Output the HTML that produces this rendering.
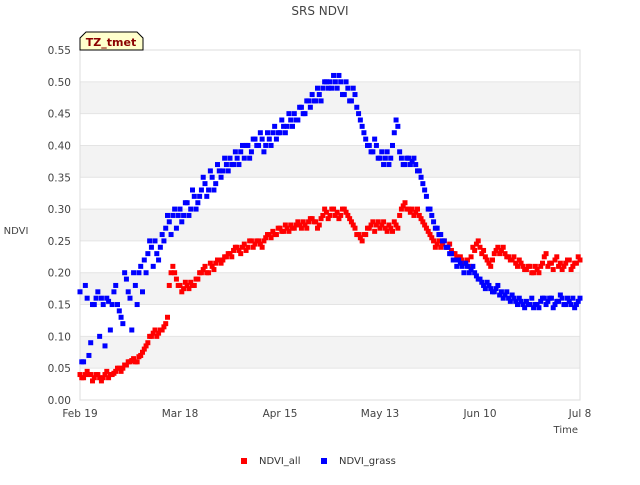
<!DOCTYPE html>
<html><head><meta charset="utf-8"><style>
body{margin:0;background:#fff;font-family:"Liberation Sans","DejaVu Sans",sans-serif;}
svg text{font-family:"DejaVu Sans","Liberation Sans",sans-serif;}
</style></head><body>
<svg id="chart" width="640" height="480" xmlns="http://www.w3.org/2000/svg">
<rect width="640" height="480" fill="#fff"/>
<text x="320" y="15" text-anchor="middle" font-size="12" fill="#444">SRS NDVI</text>
<g id="bands"></g>
<g id="yaxis"></g>
<g id="xaxis"></g>
<rect x="80" y="50" width="500" height="350" fill="none" stroke="#ddd"/>
<g id="marks"></g>
<text x="16" y="234" font-size="10" fill="#444" text-anchor="middle">NDVI</text>
<text x="578" y="433" font-size="10" fill="#444" text-anchor="end">Time</text>
<g>
<path d="M80,50 L80,38 L86,32 L137,32 L143,38 L143,50 Z" fill="#ffffcc" stroke="#000"/>
<text x="111" y="46" text-anchor="middle" font-size="11" font-weight="bold" fill="#8b0000">TZ_tmet</text>
</g>
<g><rect x="241" y="458" width="6" height="6" fill="#f00"/><text x="259" y="464" font-size="10" fill="#333">NDVI_all</text></g>
<g><rect x="321" y="458" width="6" height="6" fill="#00f"/><text x="339" y="464" font-size="10" fill="#333">NDVI_grass</text></g>
</svg>
<script>
const yTicks=[0,0.05,0.1,0.15,0.2,0.25,0.3,0.35,0.4,0.45,0.5,0.55];
const xTickDays=[0,28,56,84,112,140];
const xTickLabels=["Feb 19","Mar 18","Apr 15","May 13","Jun 10","Jul 8"];
const ndviAll=[0.04,0.035,0.045,0.04,0.035,0.04,0.03,0.04,0.035,0.04,
0.045,0.05,0.05,0.055,0.06,0.065,0.06,0.07,0.08,0.09,
0.10,0.11,0.105,0.11,0.12,0.18,0.21,0.19,0.18,0.175,
0.18,0.185,0.18,0.19,0.20,0.21,0.20,0.21,0.215,0.22,
0.22,0.225,0.23,0.235,0.24,0.23,0.245,0.24,0.25,0.245,
0.25,0.24,0.255,0.26,0.265,0.26,0.27,0.265,0.27,0.275,
0.27,0.28,0.27,0.275,0.28,0.285,0.28,0.275,0.29,0.295,
0.29,0.30,0.295,0.29,0.30,0.29,0.28,0.27,0.26,0.25,
0.26,0.27,0.28,0.275,0.27,0.28,0.265,0.27,0.28,0.27,
0.30,0.31,0.30,0.30,0.295,0.29,0.28,0.27,0.26,0.25,
0.245,0.24,0.25,0.24,0.235,0.23,0.22,0.22,0.215,0.21,
0.24,0.245,0.24,0.235,0.22,0.21,0.23,0.24,0.235,0.23,
0.225,0.22,0.215,0.22,0.21,0.205,0.21,0.20,0.205,0.21,
0.225,0.21,0.215,0.22,0.21,0.205,0.215,0.22,0.21,0.215,0.22];
const ndviAllMid=[0.035,0.04,0.04,0.03,0.04,0.035,0.035,0.045,0.04,0.042,
0.05,0.045,0.055,0.06,0.062,0.06,0.068,0.075,0.085,0.1,
0.105,0.1,0.11,0.115,0.13,0.2,0.2,0.18,0.17,0.185,
0.175,0.18,0.19,0.2,0.205,0.2,0.215,0.205,0.22,0.215,
0.225,0.23,0.225,0.24,0.235,0.24,0.235,0.25,0.24,0.25,
0.245,0.25,0.26,0.255,0.26,0.27,0.265,0.275,0.265,0.27,
0.275,0.275,0.28,0.27,0.285,0.28,0.27,0.285,0.3,0.285,
0.3,0.29,0.285,0.3,0.295,0.285,0.275,0.26,0.255,0.26,
0.27,0.275,0.265,0.28,0.275,0.27,0.275,0.265,0.275,0.29,
0.305,0.3,0.295,0.29,0.3,0.285,0.275,0.265,0.255,0.24,
0.25,0.245,0.24,0.245,0.23,0.225,0.225,0.215,0.22,0.225,
0.235,0.25,0.23,0.225,0.215,0.22,0.235,0.23,0.24,0.225,
0.22,0.225,0.21,0.215,0.205,0.21,0.2,0.21,0.2,0.215,
0.23,0.215,0.205,0.225,0.215,0.21,0.22,0.205,0.215,0.225];
const ndviGrass=[0.17,0.06,0.16,0.09,0.15,0.17,0.16,0.085,0.155,0.15,
0.18,0.14,0.12,0.19,0.16,0.20,0.15,0.21,0.22,0.23,
0.24,0.25,0.22,0.26,0.27,0.28,0.29,0.27,0.30,0.29,
0.31,0.30,0.32,0.31,0.33,0.34,0.33,0.35,0.34,0.36,
0.36,0.37,0.38,0.37,0.38,0.39,0.38,0.40,0.39,0.41,
0.40,0.41,0.40,0.41,0.42,0.41,0.42,0.43,0.43,0.44,
0.45,0.44,0.46,0.45,0.47,0.48,0.47,0.48,0.49,0.50,
0.50,0.51,0.49,0.50,0.48,0.49,0.47,0.48,0.45,0.43,
0.41,0.40,0.39,0.40,0.38,0.37,0.39,0.38,0.42,0.43,
0.38,0.37,0.38,0.375,0.37,0.36,0.34,0.32,0.30,0.28,
0.27,0.26,0.25,0.24,0.23,0.22,0.22,0.21,0.215,0.20,
0.21,0.195,0.19,0.18,0.185,0.175,0.17,0.18,0.17,0.165,
0.16,0.165,0.155,0.16,0.15,0.155,0.15,0.145,0.15,0.155,
0.16,0.155,0.16,0.15,0.155,0.16,0.15,0.155,0.16,0.15,0.16];
const ndviGrassMid=[0.06,0.18,0.07,0.15,0.16,0.1,0.15,0.16,0.11,0.17,
0.15,0.13,0.2,0.17,0.11,0.18,0.2,0.17,0.2,0.25,
0.21,0.23,0.24,0.25,0.29,0.26,0.3,0.29,0.28,0.31,
0.29,0.33,0.3,0.32,0.35,0.32,0.36,0.33,0.37,0.35,
0.38,0.36,0.37,0.39,0.37,0.4,0.4,0.38,0.41,0.4,
0.42,0.39,0.42,0.4,0.43,0.42,0.44,0.42,0.45,0.43,
0.44,0.46,0.45,0.47,0.46,0.47,0.49,0.47,0.5,0.49,
0.49,0.5,0.51,0.48,0.5,0.47,0.49,0.46,0.44,0.42,
0.4,0.39,0.41,0.38,0.39,0.38,0.37,0.4,0.44,0.39,
0.37,0.38,0.37,0.38,0.36,0.35,0.33,0.3,0.29,0.27,
0.26,0.25,0.24,0.23,0.22,0.21,0.215,0.2,0.21,0.205,
0.2,0.19,0.185,0.175,0.18,0.17,0.175,0.165,0.16,0.17,
0.155,0.16,0.15,0.155,0.145,0.15,0.16,0.15,0.145,0.16,
0.15,0.16,0.145,0.155,0.165,0.15,0.16,0.15,0.145,0.155];
const NS="http://www.w3.org/2000/svg";
function xs(d){return 80+d*500/140;}
function ys(v){return 400-v*350/0.55;}
const bands=document.getElementById('bands'),ya=document.getElementById('yaxis'),xa=document.getElementById('xaxis'),mk=document.getElementById('marks');
for(let i=0;i<yTicks.length-1;i++){
  if(i%2===1){const r=document.createElementNS(NS,'rect');
  
  
  r.setAttribute('x',80);r.setAttribute('y',ys(yTicks[i+1]));r.setAttribute('width',500);r.setAttribute('height',ys(yTicks[i])-ys(yTicks[i+1]));r.setAttribute('fill','#f3f3f3');bands.appendChild(r);}
}
yTicks.forEach(v=>{const l=document.createElementNS(NS,'line');


l.setAttribute('x1',80);l.setAttribute('x2',580);l.setAttribute('y1',ys(v));l.setAttribute('y2',ys(v));l.setAttribute('stroke','#e4e4e4');ya.appendChild(l);
const t=document.createElementNS(NS,'text');


t.setAttribute('x',71);t.setAttribute('y',ys(v)+4);t.setAttribute('text-anchor','end');t.setAttribute('font-size','10.5');t.setAttribute('fill','#444');t.textContent=v.toFixed(2);ya.appendChild(t);});
xTickDays.forEach((d,i)=>{const t=document.createElementNS(NS,'text');


t.setAttribute('x',xs(d));t.setAttribute('y',417);t.setAttribute('text-anchor','middle');t.setAttribute('font-size','10.5');t.setAttribute('fill','#444');t.textContent=xTickLabels[i];xa.appendChild(t);});
function draw(arr,off,color,name){arr.forEach((v,d)=>{const r=document.createElementNS(NS,'rect');


r.setAttribute('x',xs(d+off)-2.5);r.setAttribute('y',ys(v)-2.5);r.setAttribute('width',5);r.setAttribute('height',5);r.setAttribute('fill',color);mk.appendChild(r);});}
draw(ndviAll,0,'#f00','ndvi-all-point');
draw(ndviAllMid,0.5,'#f00','ndvi-all-point');
draw(ndviGrass,0,'#00f','ndvi-grass-point');
draw(ndviGrassMid,0.5,'#00f','ndvi-grass-point');
</script>
</body></html>
